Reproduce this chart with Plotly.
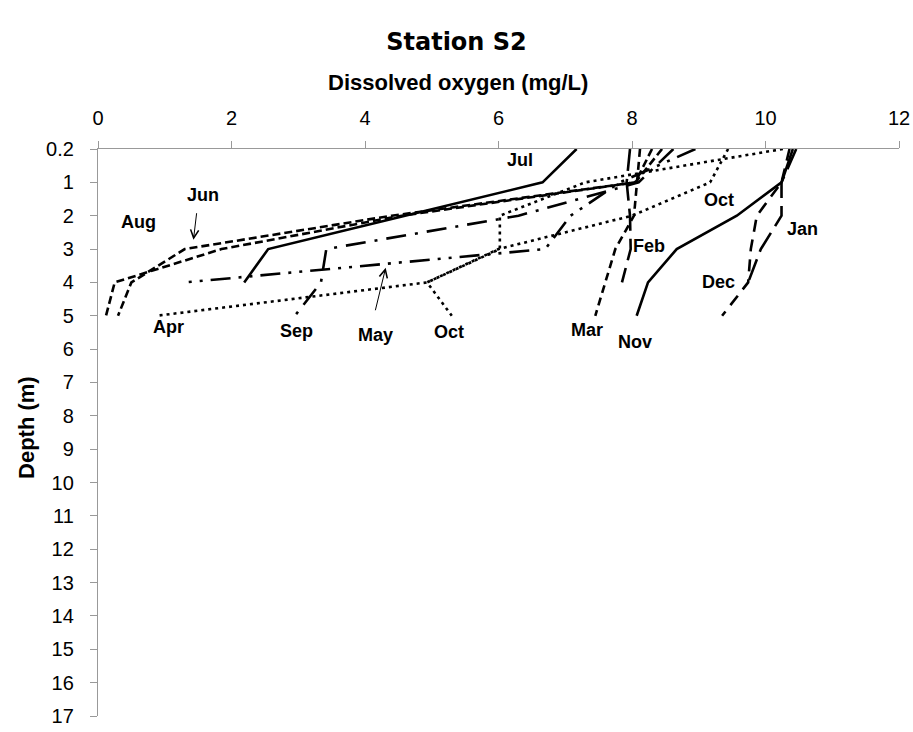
import plotly.graph_objects as go

# Depth categories (m) shown on the vertical axis
depth_ticks = ["0.2"] + [str(i) for i in range(1, 18)]
depths = ["0.2", "1", "2", "3", "4", "5"]

# Dissolved oxygen (mg/L) per month at each depth
jul = [7.17, 6.66, 4.6, 2.55, 2.19]
aug = [8.45, 8.05, 4.55, 1.85, 0.25, 0.12]
jun = [8.3, 8.05, 4.4, 1.3, 0.5, 0.3]
apr = [10.26, 7.3, 6.02, 6.02, 4.93, 0.88]
octo = [9.44, 9.17, 8.0, 6.0, 4.93, 5.3]
may = [8.95, 7.82, 7.08, 6.7, 1.3]
sep = [8.62, 8.1, 6.3, 3.42, 3.34, 2.95]
feb = [7.97, 7.92, 7.97, 7.98, 7.85]
mar = [8.12, 8.07, 8.03, 7.75, 7.6, 7.45]
nov = [10.41, 10.24, 9.57, 8.67, 8.24, 8.07]
dec = [10.36, 10.24, 9.87, 9.78, 9.74, 9.35]
jan = [10.46, 10.24, 10.24, 9.93, 9.74]

series = [
    ("Jul", jul, "solid"),
    ("Aug", aug, "8px,4px"),
    ("Jun", jun, "8px,4px"),
    ("Apr", apr, "3px,4px"),
    ("Oct", octo, "3px,4px"),
    ("May", may, "20px,8px,3px,8px,3px,8px"),
    ("Sep", sep, "20px,9px,3px,9px"),
    ("Feb", feb, "22px,8px"),
    ("Mar", mar, "8px,5px"),
    ("Nov", nov, "solid"),
    ("Dec", dec, "12px,8px"),
    ("Jan", jan, "22px,8px"),
]

# Month labels (x in mg/L, y in category index units)
labels = [
    ("Jul", 6.32, 0.33), ("Jun", 1.57, 1.38), ("Aug", 0.6, 2.19),
    ("Apr", 1.05, 5.33), ("Sep", 2.98, 5.45), ("May", 4.15, 5.57),
    ("Oct", 5.26, 5.48), ("Mar", 7.33, 5.42), ("Nov", 8.04, 5.78),
    ("Feb", 8.25, 2.9), ("Oct", 9.3, 1.53), ("Dec", 9.29, 3.98),
    ("Jan", 10.55, 2.4),
]
# Pointer arrows: (tail x, tail y, head x, head y)
arrows = [(1.48, 1.88, 1.43, 2.72), (4.15, 4.88, 4.31, 3.56)]

FONT = "Liberation Sans, Arial, sans-serif"

fig = go.Figure()
for name, vals, dash in series:
    fig.add_trace(go.Scatter(
        x=vals, y=depths[:len(vals)], mode="lines", name=name,
        line=dict(color="black", width=2.6, dash=dash),
        showlegend=False, hoverinfo="skip",
    ))

ann = []
for t, x, y in labels:
    ann.append(dict(text=t, x=x, y=y, xref="x", yref="y", showarrow=False,
                    font=dict(family=FONT, size=18, color="black", weight="bold")))
for ax_, ay_, x, y in arrows:
    ann.append(dict(text="", x=x, y=y, ax=ax_, ay=ay_, xref="x", yref="y",
                    axref="x", ayref="y", showarrow=True, arrowhead=5,
                    arrowsize=1.6, arrowwidth=1, arrowcolor="black"))
ann.append(dict(text="Dissolved oxygen (mg/L)", xref="paper", yref="paper",
                x=0.4494, y=1.118, xanchor="center", yanchor="middle",
                showarrow=False,
                font=dict(family=FONT, size=22, color="black", weight="bold")))
ann.append(dict(text="Depth (m)", xref="paper", yref="paper", textangle=-90,
                x=-0.0886, y=0.508, xanchor="center", yanchor="middle",
                showarrow=False,
                font=dict(family=FONT, size=22, color="black", weight="bold")))

fig.update_layout(
    width=913, height=732,
    margin=dict(l=98, r=14, t=149, b=16, autoexpand=False),
    paper_bgcolor="white", plot_bgcolor="white",
    title=dict(text="Station S2", x=0.5, xanchor="center", xref="container",
               y=1 - 42 / 732, yref="container", yanchor="middle",
               font=dict(family="DejaVu Sans, sans-serif", size=24,
                         color="black", weight="bold")),
    annotations=ann,
    font=dict(family=FONT, color="black"),
    xaxis=dict(side="top", range=[0, 12], dtick=2, tick0=0,
               showgrid=False, zeroline=False, showline=True,
               linecolor="#999999", linewidth=1.3,
               ticks="outside", ticklen=7, tickcolor="#999999",
               ticklabelstandoff=8,
               tickfont=dict(family=FONT, size=20, color="black")),
    yaxis=dict(type="category", categoryorder="array",
               categoryarray=depth_ticks, range=[17, 0],
               showgrid=False, zeroline=False, showline=True,
               linecolor="#999999", linewidth=1.3,
               ticks="outside", ticklen=7, tickcolor="#999999",
               ticklabelstandoff=12,
               tickfont=dict(family=FONT, size=20, color="black")),
    yaxis2=dict(overlaying="y", anchor="x", side="left", range=[17, 0],
                tickmode="linear", tick0=0, dtick=1, showticklabels=False,
                showgrid=False, zeroline=False, showline=False,
                ticks="inside", ticklen=7, tickcolor="#999999"),
)

fig.write_html("out.html")
